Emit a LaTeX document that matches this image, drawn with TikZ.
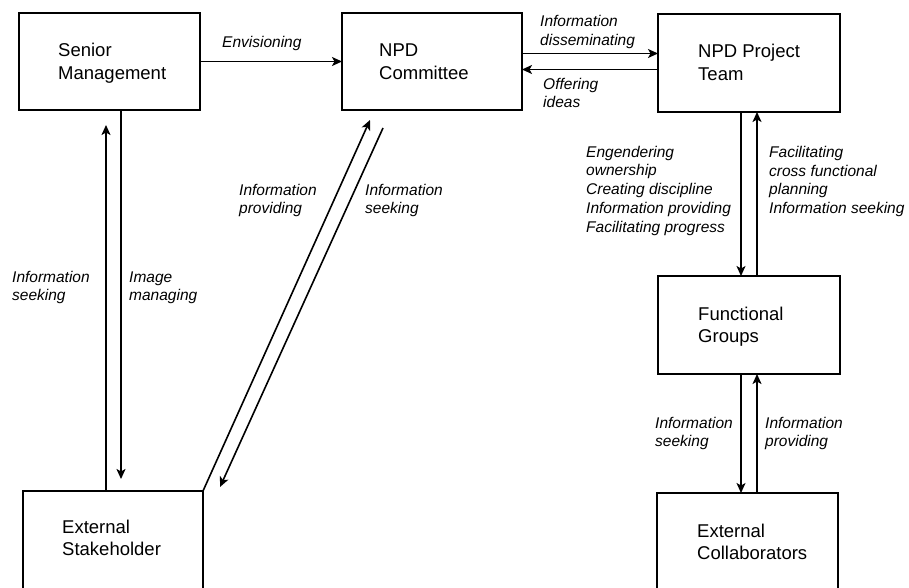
\documentclass[tikz,border=0pt]{standalone}
\usepackage{fontspec}
\setmainfont{Liberation Sans}
\usetikzlibrary{arrows.meta,calc}
\begin{document}
\begin{tikzpicture}[x=1pt,y=-1pt,
  box/.style={draw, line width=2pt, rectangle, inner sep=0pt, outer sep=0pt, anchor=north west},
  btxt/.style={font=\fontsize{18.5}{22.5}\selectfont, align=left, anchor=base west, inner sep=0pt},
  lbl/.style={font=\fontsize{15.5}{18.7}\selectfont\itshape, align=left, anchor=base west, inner sep=0pt},
  arr/.style={line width=1.6pt, -{Stealth[length=10pt,width=9pt,inset=2.5pt]}}]
\useasboundingbox (0,0) rectangle (909,588);
\clip (0,0) rectangle (909,588);
% boxes
\node[box, minimum width=181pt, minimum height=97pt] (sm) at (19,13) {};
\node[box, minimum width=180pt, minimum height=97pt] (npdc) at (342,13) {};
\node[box, minimum width=182pt, minimum height=98pt] (team) at (658,14) {};
\node[box, minimum width=182pt, minimum height=98pt] (fg) at (658,276) {};
\node[box, minimum width=181pt, minimum height=120pt] (ec) at (657,493) {};
\node[box, minimum width=180pt, minimum height=120pt] (es) at (23,491) {};
% box texts (anchored at the baseline of the last line)
\node[btxt] (smT) at (58,79.5) {Senior\\Management};
\node[btxt] (npdcT) at (379,79.5) {NPD\\Committee};
\node[btxt] (teamT) at (698,80.5) {NPD Project\\Team};
\node[btxt] (fgT) at (698,342.5) {Functional\\Groups};
\node[btxt] (ecT) at (697,559.5) {External\\Collaborators};
\node[btxt] (esT) at (62,555.5) {External\\Stakeholder};
% coordinates for free ends
\coordinate (ipEnd) at (370,120);
\coordinate (isStart) at (383,128);
\coordinate (isEnd) at (220,487);
% connectors
\draw[arr] (sm.east) -- (npdc.west);
\draw[arr] ([yshift=8pt]npdc.east) -- ([yshift=8pt]npdc.east -| team.west);
\draw[arr] ([yshift=-8pt]npdc.east -| team.west) -- ([yshift=-8pt]npdc.east);
\draw[arr] ([xshift=-8pt]team.south) -- ([xshift=-8pt]team.south |- fg.north);
\draw[arr] ([xshift=8pt]team.south |- fg.north) -- ([xshift=8pt]team.south);
\draw[arr] ([xshift=-8pt]fg.south) -- ([xshift=-8pt]fg.south |- ec.north);
\draw[arr] ([xshift=8pt]fg.south |- ec.north) -- ([xshift=8pt]fg.south);
\draw[arr, shorten >=15pt] ([xshift=-3.5pt]sm.south |- es.north) -- ([xshift=-3.5pt]sm.south);
\draw[arr, shorten >=12pt] ([xshift=11.5pt]sm.south) -- ([xshift=11.5pt]sm.south |- es.north);
\draw[arr] (es.north east) -- (ipEnd);
\draw[arr] (isStart) -- (isEnd);
% labels (anchored at the baseline of the last line)
\node[lbl] (lEnv) at (222,48) {Envisioning};
\node[lbl] (lDis) at (540,45.7) {Information\\disseminating};
\node[lbl] (lOff) at (543,108) {Offering\\ideas};
\node[lbl] (lEng) at (586,232) {Engendering\\ownership\\Creating discipline\\Information providing\\Facilitating progress};
\node[lbl] (lFac) at (769,213.5) {Facilitating\\cross functional\\planning\\Information seeking};
\node[lbl] (lFgS) at (655,446.7) {Information\\seeking};
\node[lbl] (lFgP) at (765,446.7) {Information\\providing};
\node[lbl] (lSmS) at (12,300.7) {Information\\seeking};
\node[lbl] (lImg) at (129,300.7) {Image\\managing};
\node[lbl] (lDiP) at (239,213.7) {Information\\providing};
\node[lbl] (lDiS) at (365,213.7) {Information\\seeking};
\end{tikzpicture}
\end{document}
